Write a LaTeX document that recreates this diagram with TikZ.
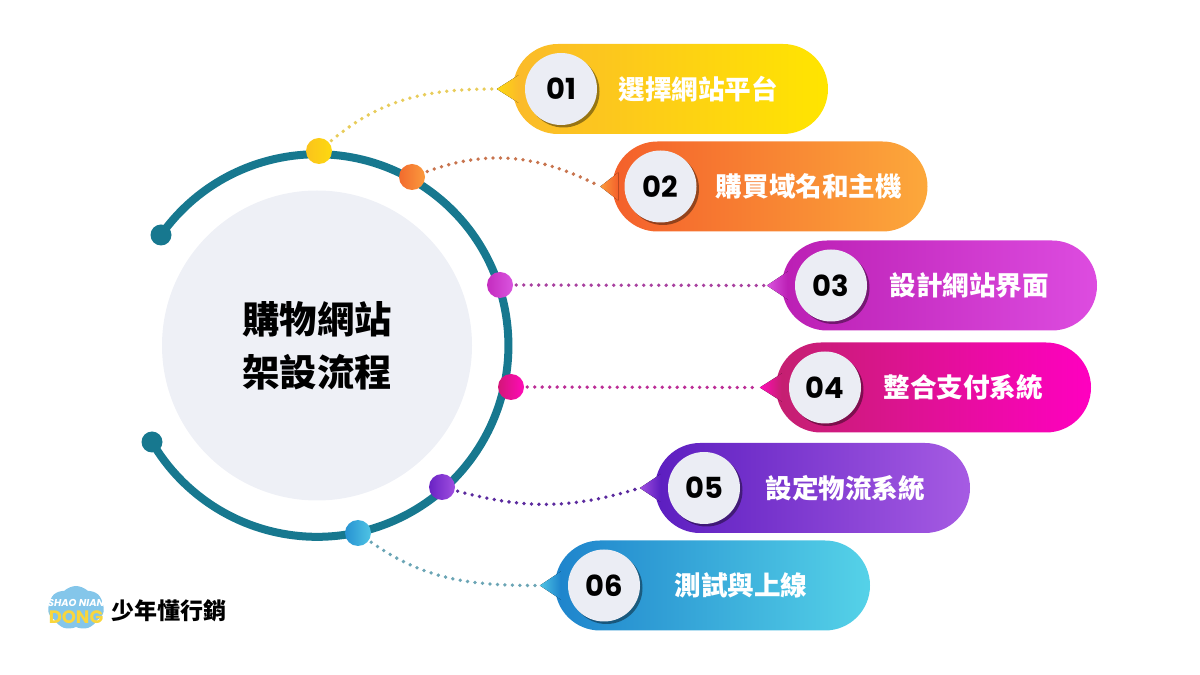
\documentclass[tikz,border=0pt]{standalone}
\usepackage{fontspec}
\usetikzlibrary{positioning,shadows,shapes.symbols}
\newfontfamily\cjk{Noto Sans CJK TC}
\newfontfamily\numfont{Poppins}
\definecolor{ringteal}{HTML}{17788F}
\definecolor{discgrey}{HTML}{EEF0F6}
\definecolor{badgegrey}{HTML}{EBEDF4}
\definecolor{cloudblue}{HTML}{84C6EA}
\definecolor{dongyellow}{HTML}{F9D63C}
\definecolor{pillaL}{HTML}{FBBA2A}\definecolor{pillaR}{HTML}{FFE500}
\definecolor{pillbL}{HTML}{F4602B}\definecolor{pillbR}{HTML}{FCA83B}
\definecolor{pillcL}{HTML}{BB1FB4}\definecolor{pillcR}{HTML}{DD4CE0}
\definecolor{pilldL}{HTML}{C42070}\definecolor{pilldR}{HTML}{FF00C0}
\definecolor{pilleL}{HTML}{5C1EC0}\definecolor{pilleR}{HTML}{A65BE3}
\definecolor{pillfL}{HTML}{1E84CC}\definecolor{pillfR}{HTML}{55D2E8}
\definecolor{knobaL}{HTML}{FBC31C}\definecolor{knobaR}{HTML}{FDD910}
\definecolor{knobbL}{HTML}{F26B2E}\definecolor{knobbR}{HTML}{FB9A3D}
\definecolor{knobcL}{HTML}{C42CBF}\definecolor{knobcR}{HTML}{DA55DF}
\definecolor{knobdL}{HTML}{D31678}\definecolor{knobdR}{HTML}{FF0BB8}
\definecolor{knobeL}{HTML}{6A22C4}\definecolor{knobeR}{HTML}{A04FE0}
\definecolor{knobfL}{HTML}{2792D2}\definecolor{knobfR}{HTML}{4FC4E4}

\begin{document}
\begin{tikzpicture}[x=1pt,y=1pt,
      pill/.style 2 args={rectangle,rounded corners=45pt,minimum width=315pt,minimum height=90pt,left color=#1,right color=#2},
      badge/.style={circle,fill=badgegrey,minimum size=72pt,inner sep=0pt,text=black,
        font=\numfont\bfseries\fontsize{29}{29}\selectfont,
        drop shadow={shadow xshift=2.5pt,shadow yshift=-2.5pt,fill=black,opacity=.4}},
      pilltext/.style={inner sep=0pt,text=white,font=\cjk\bfseries\fontsize{26.6}{26.6}\selectfont},
      knob/.style 2 args={circle,minimum size=26pt,inner sep=0pt,left color=#1,right color=#2},
      enddot/.style={circle,fill=ringteal,minimum size=21pt,inner sep=0pt},
      dotline/.style={line width=3.8pt,line cap=round,dash pattern=on 0pt off 7.5pt,shorten >=2pt,shorten <=3pt}]
    \useasboundingbox (0,0) rectangle (1200,675);

    % centre disc and ring
    \node[circle,fill=discgrey,minimum size=310pt,inner sep=0pt,align=center,
      font=\cjk\bfseries\fontsize{37.4}{53}\selectfont] (title) at (317,329.5) {購物網站\\架設流程};
    \node[enddot] (ringa) at (161,440) {};
    \node[enddot] (ringb) at (152,233) {};
    \draw[ringteal,line width=8pt] (ringa.center) arc[start angle=144.7,end angle=-149.7,radius=191.3pt];

    % pills
    \node[pill={pillaL}{pillaR}] (pill1) at (670.5,586) {};
    \node[pill={pillbL}{pillbR}] (pill2) at (770,488.5) {};
    \node[pill={pillcL}{pillcR}] (pill3) at (939.5,389.5) {};
    \node[pill={pilldL}{pilldR}] (pill4) at (933.5,287.5) {};
    \node[pill={pilleL}{pilleR}] (pill5) at (812.5,187) {};
    \node[pill={pillfL}{pillfR}] (pill6) at (712.5,89.5) {};

    % pointers
    \coordinate[left=16pt of pill1.west] (tip1);
    \coordinate[left=12pt of pill2.west] (tip2);
    \coordinate[left=15pt of pill3.west] (tip3);
    \coordinate[left=16pt of pill4.west] (tip4);
    \coordinate[left=15pt of pill5.west] (tip5);
    \coordinate[left=15pt of pill6.west] (tip6);
    \fill[left color=knobaR,right color=pillaL] (tip1) -- ([xshift=6pt,yshift=14pt]pill1.west) -- ([xshift=6pt,yshift=-14pt]pill1.west) -- cycle;
    \fill[left color=knobbR,right color=pillbL] (tip2) -- ([xshift=6pt,yshift=14pt]pill2.west) -- ([xshift=6pt,yshift=-14pt]pill2.west) -- cycle;
    \fill[left color=knobcR,right color=pillcL] (tip3) -- ([xshift=6pt,yshift=14pt]pill3.west) -- ([xshift=6pt,yshift=-14pt]pill3.west) -- cycle;
    \fill[left color=knobdR,right color=pilldL] (tip4) -- ([xshift=6pt,yshift=14pt]pill4.west) -- ([xshift=6pt,yshift=-14pt]pill4.west) -- cycle;
    \fill[left color=knobeR,right color=pilleL] (tip5) -- ([xshift=6pt,yshift=14pt]pill5.west) -- ([xshift=6pt,yshift=-14pt]pill5.west) -- cycle;
    \fill[left color=knobfR,right color=pillfL] (tip6) -- ([xshift=6pt,yshift=14pt]pill6.west) -- ([xshift=6pt,yshift=-14pt]pill6.west) -- cycle;

    % badges and labels
    \node[badge,right=12pt of pill1.west] (badge1) {01};
    \node[badge,right=12pt of pill2.west] (badge2) {02};
    \node[badge,right=13pt of pill3.west] (badge3) {03};
    \node[badge,right=13pt of pill4.west] (badge4) {04};
    \node[badge,right=13pt of pill5.west] (badge5) {05};
    \node[badge,right=13pt of pill6.west] (badge6) {06};
    \node[pilltext,right=21pt of badge1.east] (label1) {選擇網站平台};
    \node[pilltext,right=19pt of badge2.east] (label2) {購買域名和主機};
    \node[pilltext,right=22pt of badge3.east] (label3) {設計網站界面};
    \node[pilltext,right=22pt of badge4.east] (label4) {整合支付系統};
    \node[pilltext,right=25pt of badge5.east] (label5) {設定物流系統};
    \node[pilltext,right=34pt of badge6.east] (label6) {測試與上線};

    % knobs on the ring
    \node[knob={knobaL}{knobaR}] (knob1) at (319,524) {};
    \node[knob={knobbL}{knobbR}] (knob2) at (412,498) {};
    \node[knob={knobcL}{knobcR}] (knob3) at (500,390) {};
    \node[knob={knobdL}{knobdR}] (knob4) at (511,288) {};
    \node[knob={knobeL}{knobeR}] (knob5) at (442,188) {};
    \node[knob={knobfL}{knobfR}] (knob6) at (358,142) {};

    % connectors
    \draw[dotline,color={rgb,255:red,232;green,204;blue,90}] (knob1) to[out=40,in=180] (tip1);
    \draw[dotline,color={rgb,255:red,200;green,116;blue,78}] (knob2) to[out=20,in=153] (tip2);
    \draw[dotline,color={rgb,255:red,168;green,64;blue,159}] (knob3) -- (tip3);
    \draw[dotline,color={rgb,255:red,188;green,46;blue,150}] (knob4) -- (tip4);
    \draw[dotline,color={rgb,255:red,91;green,42;blue,158}] (knob5) to[out=-15,in=197] (tip5);
    \draw[dotline,color={rgb,255:red,107;green,165;blue,181}] (knob6) to[out=-35,in=180] (tip6);

    % logo
    \node[cloud,cloud puffs=7,cloud puff arc=90,aspect=1.3,fill=cloudblue,minimum width=56pt,minimum height=44pt,inner sep=0pt] (logoblob) at (76,67) {};
    \node[inner sep=0pt,text=white,font=\numfont\bfseries\itshape\fontsize{10}{10}\selectfont] (logotop) at (76,72) {SHAO NIAN};
    \node[inner sep=0pt,text=dongyellow,font=\numfont\bfseries\fontsize{18}{18}\selectfont] (logodong) at (76,58) {DONG};
    \node[inner sep=0pt,text=black,font=\cjk\bfseries\fontsize{23}{23}\selectfont,anchor=west] (logotext) at (111,64) {少年懂行銷};
  \end{tikzpicture}
\end{document}
